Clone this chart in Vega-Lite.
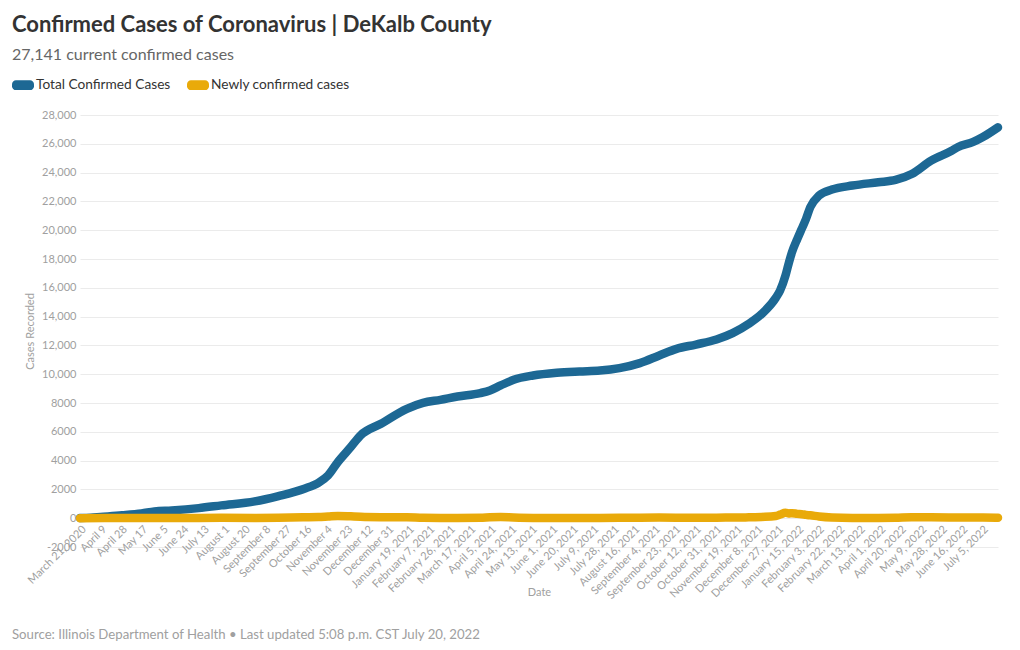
{
  "$schema": "https://vega.github.io/schema/vega-lite/v6.json",
  "background": "white",
  "padding": {"left": 12, "top": 14, "right": 20, "bottom": 8},
  "config": {
    "font": "Lato",
    "view": {"stroke": null}
  },
  "title": {
    "text": "Confirmed Cases of Coronavirus | DeKalb County",
    "subtitle": "27,141 current confirmed cases",
    "anchor": "start",
    "frame": "group",
    "dx": -68,
    "font": "Lato",
    "fontSize": 22,
    "fontWeight": "bold",
    "color": "#333333",
    "subtitleFont": "Lato",
    "subtitleFontSize": 16,
    "subtitleColor": "#666666",
    "subtitlePadding": 10,
    "offset": 10
  },
  "vconcat": [
    {
      "width": 918,
      "height": 432,
      "title": {
        "text": "Source: Illinois Department of Health • Last updated 5:08 p.m. CST July 20, 2022",
        "orient": "bottom",
        "anchor": "start",
        "frame": "group",
        "dx": -68,
        "offset": 28,
        "font": "Lato",
        "fontSize": 13.2,
        "fontWeight": "normal",
        "color": "#a0a0a0"
      },
      "data": {
        "values": [
          {"date": "2020-03-21", "series": "Total Confirmed Cases", "cases": 15},
          {"date": "2020-03-31", "series": "Total Confirmed Cases", "cases": 40},
          {"date": "2020-04-09", "series": "Total Confirmed Cases", "cases": 90},
          {"date": "2020-04-29", "series": "Total Confirmed Cases", "cases": 200},
          {"date": "2020-05-17", "series": "Total Confirmed Cases", "cases": 330},
          {"date": "2020-05-29", "series": "Total Confirmed Cases", "cases": 470},
          {"date": "2020-06-14", "series": "Total Confirmed Cases", "cases": 540},
          {"date": "2020-07-09", "series": "Total Confirmed Cases", "cases": 700},
          {"date": "2020-07-30", "series": "Total Confirmed Cases", "cases": 890},
          {"date": "2020-08-30", "series": "Total Confirmed Cases", "cases": 1170},
          {"date": "2020-09-21", "series": "Total Confirmed Cases", "cases": 1540},
          {"date": "2020-10-15", "series": "Total Confirmed Cases", "cases": 2050},
          {"date": "2020-10-28", "series": "Total Confirmed Cases", "cases": 2460},
          {"date": "2020-11-06", "series": "Total Confirmed Cases", "cases": 2970},
          {"date": "2020-11-15", "series": "Total Confirmed Cases", "cases": 3900},
          {"date": "2020-11-27", "series": "Total Confirmed Cases", "cases": 4940},
          {"date": "2020-12-06", "series": "Total Confirmed Cases", "cases": 5750},
          {"date": "2020-12-25", "series": "Total Confirmed Cases", "cases": 6560},
          {"date": "2021-01-18", "series": "Total Confirmed Cases", "cases": 7600},
          {"date": "2021-02-02", "series": "Total Confirmed Cases", "cases": 8010},
          {"date": "2021-02-18", "series": "Total Confirmed Cases", "cases": 8220},
          {"date": "2021-03-06", "series": "Total Confirmed Cases", "cases": 8450},
          {"date": "2021-03-27", "series": "Total Confirmed Cases", "cases": 8690},
          {"date": "2021-04-05", "series": "Total Confirmed Cases", "cases": 8870},
          {"date": "2021-04-15", "series": "Total Confirmed Cases", "cases": 9220},
          {"date": "2021-04-27", "series": "Total Confirmed Cases", "cases": 9610},
          {"date": "2021-05-15", "series": "Total Confirmed Cases", "cases": 9910},
          {"date": "2021-06-06", "series": "Total Confirmed Cases", "cases": 10100},
          {"date": "2021-06-27", "series": "Total Confirmed Cases", "cases": 10190},
          {"date": "2021-07-16", "series": "Total Confirmed Cases", "cases": 10250},
          {"date": "2021-08-03", "series": "Total Confirmed Cases", "cases": 10420},
          {"date": "2021-08-22", "series": "Total Confirmed Cases", "cases": 10770},
          {"date": "2021-09-09", "series": "Total Confirmed Cases", "cases": 11300},
          {"date": "2021-09-25", "series": "Total Confirmed Cases", "cases": 11760},
          {"date": "2021-10-13", "series": "Total Confirmed Cases", "cases": 12060},
          {"date": "2021-11-01", "series": "Total Confirmed Cases", "cases": 12410},
          {"date": "2021-11-16", "series": "Total Confirmed Cases", "cases": 12850},
          {"date": "2021-12-01", "series": "Total Confirmed Cases", "cases": 13500},
          {"date": "2021-12-13", "series": "Total Confirmed Cases", "cases": 14190},
          {"date": "2021-12-26", "series": "Total Confirmed Cases", "cases": 15300},
          {"date": "2021-12-30", "series": "Total Confirmed Cases", "cases": 15810},
          {"date": "2022-01-04", "series": "Total Confirmed Cases", "cases": 16850},
          {"date": "2022-01-07", "series": "Total Confirmed Cases", "cases": 17700},
          {"date": "2022-01-10", "series": "Total Confirmed Cases", "cases": 18470},
          {"date": "2022-01-15", "series": "Total Confirmed Cases", "cases": 19400},
          {"date": "2022-01-19", "series": "Total Confirmed Cases", "cases": 20090},
          {"date": "2022-01-23", "series": "Total Confirmed Cases", "cases": 20780},
          {"date": "2022-01-27", "series": "Total Confirmed Cases", "cases": 21600},
          {"date": "2022-02-04", "series": "Total Confirmed Cases", "cases": 22400},
          {"date": "2022-02-16", "series": "Total Confirmed Cases", "cases": 22820},
          {"date": "2022-03-07", "series": "Total Confirmed Cases", "cases": 23100},
          {"date": "2022-03-31", "series": "Total Confirmed Cases", "cases": 23330},
          {"date": "2022-04-16", "series": "Total Confirmed Cases", "cases": 23490},
          {"date": "2022-05-01", "series": "Total Confirmed Cases", "cases": 23900},
          {"date": "2022-05-19", "series": "Total Confirmed Cases", "cases": 24830},
          {"date": "2022-06-07", "series": "Total Confirmed Cases", "cases": 25520},
          {"date": "2022-06-13", "series": "Total Confirmed Cases", "cases": 25780},
          {"date": "2022-06-27", "series": "Total Confirmed Cases", "cases": 26130},
          {"date": "2022-07-06", "series": "Total Confirmed Cases", "cases": 26470},
          {"date": "2022-07-20", "series": "Total Confirmed Cases", "cases": 27141},
          {"date": "2020-03-21", "series": "Newly confirmed cases", "cases": 5},
          {"date": "2020-04-29", "series": "Newly confirmed cases", "cases": 15},
          {"date": "2020-05-29", "series": "Newly confirmed cases", "cases": 15},
          {"date": "2020-06-14", "series": "Newly confirmed cases", "cases": 10},
          {"date": "2020-07-09", "series": "Newly confirmed cases", "cases": 20},
          {"date": "2020-07-30", "series": "Newly confirmed cases", "cases": 25},
          {"date": "2020-08-30", "series": "Newly confirmed cases", "cases": 20},
          {"date": "2020-09-21", "series": "Newly confirmed cases", "cases": 30},
          {"date": "2020-10-15", "series": "Newly confirmed cases", "cases": 60},
          {"date": "2020-10-28", "series": "Newly confirmed cases", "cases": 80},
          {"date": "2020-11-06", "series": "Newly confirmed cases", "cases": 120},
          {"date": "2020-11-15", "series": "Newly confirmed cases", "cases": 160},
          {"date": "2020-11-27", "series": "Newly confirmed cases", "cases": 130},
          {"date": "2020-12-06", "series": "Newly confirmed cases", "cases": 100},
          {"date": "2020-12-25", "series": "Newly confirmed cases", "cases": 70},
          {"date": "2021-01-18", "series": "Newly confirmed cases", "cases": 60},
          {"date": "2021-02-02", "series": "Newly confirmed cases", "cases": 30},
          {"date": "2021-02-18", "series": "Newly confirmed cases", "cases": 20},
          {"date": "2021-03-06", "series": "Newly confirmed cases", "cases": 20},
          {"date": "2021-03-27", "series": "Newly confirmed cases", "cases": 25},
          {"date": "2021-04-05", "series": "Newly confirmed cases", "cases": 60},
          {"date": "2021-04-15", "series": "Newly confirmed cases", "cases": 80},
          {"date": "2021-04-27", "series": "Newly confirmed cases", "cases": 50},
          {"date": "2021-05-15", "series": "Newly confirmed cases", "cases": 20},
          {"date": "2021-06-06", "series": "Newly confirmed cases", "cases": 10},
          {"date": "2021-06-27", "series": "Newly confirmed cases", "cases": 10},
          {"date": "2021-07-16", "series": "Newly confirmed cases", "cases": 15},
          {"date": "2021-08-03", "series": "Newly confirmed cases", "cases": 25},
          {"date": "2021-08-22", "series": "Newly confirmed cases", "cases": 35},
          {"date": "2021-09-09", "series": "Newly confirmed cases", "cases": 40},
          {"date": "2021-09-25", "series": "Newly confirmed cases", "cases": 35},
          {"date": "2021-10-13", "series": "Newly confirmed cases", "cases": 25},
          {"date": "2021-11-01", "series": "Newly confirmed cases", "cases": 30},
          {"date": "2021-11-16", "series": "Newly confirmed cases", "cases": 50},
          {"date": "2021-12-01", "series": "Newly confirmed cases", "cases": 60},
          {"date": "2021-12-13", "series": "Newly confirmed cases", "cases": 90},
          {"date": "2021-12-26", "series": "Newly confirmed cases", "cases": 150},
          {"date": "2021-12-30", "series": "Newly confirmed cases", "cases": 250},
          {"date": "2022-01-04", "series": "Newly confirmed cases", "cases": 380},
          {"date": "2022-01-07", "series": "Newly confirmed cases", "cases": 330},
          {"date": "2022-01-10", "series": "Newly confirmed cases", "cases": 350},
          {"date": "2022-01-15", "series": "Newly confirmed cases", "cases": 300},
          {"date": "2022-01-19", "series": "Newly confirmed cases", "cases": 280},
          {"date": "2022-01-23", "series": "Newly confirmed cases", "cases": 230},
          {"date": "2022-01-27", "series": "Newly confirmed cases", "cases": 200},
          {"date": "2022-02-04", "series": "Newly confirmed cases", "cases": 120},
          {"date": "2022-02-16", "series": "Newly confirmed cases", "cases": 50},
          {"date": "2022-03-07", "series": "Newly confirmed cases", "cases": 20},
          {"date": "2022-03-31", "series": "Newly confirmed cases", "cases": 20},
          {"date": "2022-04-16", "series": "Newly confirmed cases", "cases": 30},
          {"date": "2022-05-01", "series": "Newly confirmed cases", "cases": 60},
          {"date": "2022-05-19", "series": "Newly confirmed cases", "cases": 60},
          {"date": "2022-06-07", "series": "Newly confirmed cases", "cases": 50},
          {"date": "2022-06-13", "series": "Newly confirmed cases", "cases": 45},
          {"date": "2022-06-27", "series": "Newly confirmed cases", "cases": 45},
          {"date": "2022-07-06", "series": "Newly confirmed cases", "cases": 40},
          {"date": "2022-07-20", "series": "Newly confirmed cases", "cases": 30}
        ]
      },
      "mark": {
        "type": "line",
        "strokeWidth": 8.5,
        "strokeCap": "round",
        "strokeJoin": "round",
        "interpolate": "monotone"
      },
      "encoding": {
        "x": {
          "field": "date",
          "type": "temporal",
          "scale": {"type": "utc"},
          "axis": {
            "title": "Date",
            "titleFont": "Lato",
            "titleFontSize": 11,
            "titleFontWeight": "normal",
            "titleColor": "#a0a0a0",
            "titleY": 73,
            "titleBaseline": "middle",
            "labelFont": "Lato",
            "labelFontSize": 11,
            "labelColor": "#a0a0a0",
            "labelAngle": -45,
            "labelPadding": 4,
            "labelOverlap": false,
            "labelFlush": false,
            "domain": false,
            "ticks": false,
            "grid": false,
            "offset": -28,
            "labelExpr": "utcyear(datum.value) == 2020 && !(utcmonth(datum.value) == 2 && utcdate(datum.value) == 21) ? utcFormat(datum.value, '%B %-d') : utcFormat(datum.value, '%B %-d, %Y')",
            "values": [
              {"year": 2020, "month": 3, "date": 21, "utc": true},
              {"year": 2020, "month": 4, "date": 9, "utc": true},
              {"year": 2020, "month": 4, "date": 28, "utc": true},
              {"year": 2020, "month": 5, "date": 17, "utc": true},
              {"year": 2020, "month": 6, "date": 5, "utc": true},
              {"year": 2020, "month": 6, "date": 24, "utc": true},
              {"year": 2020, "month": 7, "date": 13, "utc": true},
              {"year": 2020, "month": 8, "date": 1, "utc": true},
              {"year": 2020, "month": 8, "date": 20, "utc": true},
              {"year": 2020, "month": 9, "date": 8, "utc": true},
              {"year": 2020, "month": 9, "date": 27, "utc": true},
              {"year": 2020, "month": 10, "date": 16, "utc": true},
              {"year": 2020, "month": 11, "date": 4, "utc": true},
              {"year": 2020, "month": 11, "date": 23, "utc": true},
              {"year": 2020, "month": 12, "date": 12, "utc": true},
              {"year": 2020, "month": 12, "date": 31, "utc": true},
              {"year": 2021, "month": 1, "date": 19, "utc": true},
              {"year": 2021, "month": 2, "date": 7, "utc": true},
              {"year": 2021, "month": 2, "date": 26, "utc": true},
              {"year": 2021, "month": 3, "date": 17, "utc": true},
              {"year": 2021, "month": 4, "date": 5, "utc": true},
              {"year": 2021, "month": 4, "date": 24, "utc": true},
              {"year": 2021, "month": 5, "date": 13, "utc": true},
              {"year": 2021, "month": 6, "date": 1, "utc": true},
              {"year": 2021, "month": 6, "date": 20, "utc": true},
              {"year": 2021, "month": 7, "date": 9, "utc": true},
              {"year": 2021, "month": 7, "date": 28, "utc": true},
              {"year": 2021, "month": 8, "date": 16, "utc": true},
              {"year": 2021, "month": 9, "date": 4, "utc": true},
              {"year": 2021, "month": 9, "date": 23, "utc": true},
              {"year": 2021, "month": 10, "date": 12, "utc": true},
              {"year": 2021, "month": 10, "date": 31, "utc": true},
              {"year": 2021, "month": 11, "date": 19, "utc": true},
              {"year": 2021, "month": 12, "date": 8, "utc": true},
              {"year": 2021, "month": 12, "date": 27, "utc": true},
              {"year": 2022, "month": 1, "date": 15, "utc": true},
              {"year": 2022, "month": 2, "date": 3, "utc": true},
              {"year": 2022, "month": 2, "date": 22, "utc": true},
              {"year": 2022, "month": 3, "date": 13, "utc": true},
              {"year": 2022, "month": 4, "date": 1, "utc": true},
              {"year": 2022, "month": 4, "date": 20, "utc": true},
              {"year": 2022, "month": 5, "date": 9, "utc": true},
              {"year": 2022, "month": 5, "date": 28, "utc": true},
              {"year": 2022, "month": 6, "date": 16, "utc": true},
              {"year": 2022, "month": 7, "date": 5, "utc": true}
            ]
          }
        },
        "y": {
          "field": "cases",
          "type": "quantitative",
          "scale": {"domain": [-2000, 28000], "nice": false, "zero": false},
          "axis": {
            "title": "Cases Recorded",
            "titleFont": "Lato",
            "titleFontSize": 11,
            "titleFontWeight": "normal",
            "titleColor": "#a0a0a0",
            "titlePadding": 6,
            "labelFont": "Lato",
            "labelFontSize": 11,
            "labelColor": "#a0a0a0",
            "labelPadding": 4,
            "domain": false,
            "ticks": false,
            "gridColor": "#ebebeb",
            "gridWidth": 1,
            "values": [-2000, 0, 2000, 4000, 6000, 8000, 10000, 12000, 14000, 16000, 18000, 20000, 22000, 24000, 26000, 28000],
            "labelExpr": "datum.value >= 10000 ? format(datum.value, ',') : toString(datum.value)"
          }
        },
        "color": {
          "field": "series",
          "type": "nominal",
          "sort": ["Total Confirmed Cases", "Newly confirmed cases"],
          "scale": {
            "domain": ["Total Confirmed Cases", "Newly confirmed cases"],
            "range": ["#1d6894", "#e9aa0a"]
          },
          "legend": {
            "title": null,
            "orient": "none",
            "direction": "horizontal",
            "legendX": -68,
            "legendY": -41,
            "padding": 0,
            "labelFont": "Lato",
            "labelFontSize": 13.7,
            "labelColor": "#333333",
            "labelOffset": 2,
            "columnPadding": 15,
            "symbolType": "M-0.64,-0.45 L0.64,-0.45 A0.36,0.36 0 0 1 1,-0.09 L1,0.09 A0.36,0.36 0 0 1 0.64,0.45 L-0.64,0.45 A0.36,0.36 0 0 1 -1,0.09 L-1,-0.09 A0.36,0.36 0 0 1 -0.64,-0.45 Z",
            "symbolSize": 484,
            "symbolStrokeWidth": 0,
            "encode": {
              "symbols": {
                "update": {
                  "fill": {"scale": "color", "field": "value"},
                  "fillOpacity": {"value": 1},
                  "strokeWidth": {"value": 0}
                }
              }
            }
          }
        }
      }
    }
  ]
}
